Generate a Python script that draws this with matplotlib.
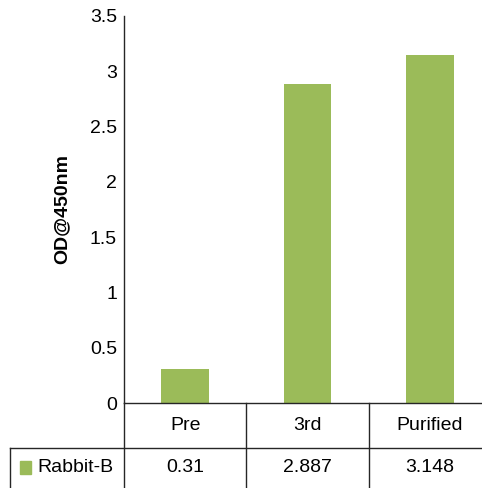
import matplotlib
matplotlib.use('Agg')
from matplotlib import pyplot as plt
from matplotlib.lines import Line2D
from matplotlib.patches import Rectangle
import matplotlib.transforms as mtransforms
import numpy as np

categories = ['Pre', '3rd', 'Purified']
series_name = 'Rabbit-B'
values = [0.31, 2.887, 3.148]
y_ticks = [0, 0.5, 1, 1.5, 2, 2.5, 3, 3.5]

bar_color = '#9BBB59'
line_color = '#262626'
W, H = 482, 488

plt.rcParams['font.family'] = ['Liberation Sans', 'DejaVu Sans']


def fx(x):
    return x / W


def fy(y):
    return 1 - y / H


fig = plt.figure(figsize=(W / 100, H / 100), dpi=100)
# plot area runs a little past the right edge of the canvas
ax = fig.add_axes([fx(124), fy(403), (491 - 124) / W, (403 - 16) / H])

x = np.arange(len(categories))
ax.bar(x, values, width=0.39, color=bar_color)
ax.set_xlim(-0.5, len(categories) - 0.5)
ax.set_ylim(0, 3.5)
ax.set_yticks(y_ticks)
ax.set_yticklabels(['%g' % t for t in y_ticks], fontsize=14)
ax.set_xticks([])
ax.tick_params(axis='y', length=0, pad=5)
for side in ['top', 'right']:
    ax.spines[side].set_visible(False)
for side in ['left', 'bottom']:
    ax.spines[side].set_color(line_color)
    ax.spines[side].set_linewidth(1.0)
ax.set_ylabel('OD@450nm', fontsize=14, fontweight='bold', labelpad=14)

# data table under the axis
trans = mtransforms.blended_transform_factory(ax.transData, fig.transFigure)
row1_mid = fy((403 + 448) / 2)
row2_mid = fy(467)
for i, (cat, val) in enumerate(zip(categories, values)):
    ax.text(i, row1_mid, cat, transform=trans, ha='center', va='center',
            fontsize=14, clip_on=False)
    ax.text(i, row2_mid, '%g' % val, transform=trans, ha='center', va='center',
            fontsize=14, clip_on=False)

for b in np.arange(-0.5, len(categories), 1.0):
    fig.add_artist(Line2D([b, b], [fy(403), fy(H + 2)], transform=trans,
                          color=line_color, lw=1.0, clip_on=False))
fig.add_artist(Line2D([fx(10), fx(W + 10)], [fy(448), fy(448)],
                      transform=fig.transFigure, color=line_color, lw=1.0))
fig.add_artist(Line2D([fx(10), fx(10)], [fy(448), fy(H + 2)],
                      transform=fig.transFigure, color=line_color, lw=1.0))

fig.add_artist(Rectangle((fx(20), fy(474)), 11 / W, 13 / H,
                         transform=fig.transFigure, color=bar_color))
fig.text(fx(37), row2_mid, series_name, ha='left', va='center', fontsize=14)

fig.savefig('out.png', dpi=100)
